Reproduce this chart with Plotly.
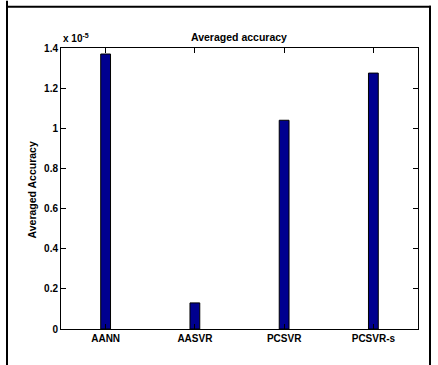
import plotly.graph_objects as go

# Averaged accuracy per method (values in units of 1e-5)
methods = ["AANN", "AASVR", "PCSVR", "PCSVR-s"]
accuracy_e5 = [1.37, 0.13, 1.04, 1.275]
y_ticks_e5 = [0, 0.2, 0.4, 0.6, 0.8, 1.0, 1.2, 1.4]
y_tick_text = ["0", "0.2", "0.4", "0.6", "0.8", "1", "1.2", "1.4"]

SCALE = 1e-5
W, H = 438, 365
L, R, T, B = 61, 418, 47.5, 329.5  # plot area in pixels

def px(x):
    return (x - L) / (R - L)

def py(y):
    return (B - y) / (B - T)

FONT = "Liberation Sans, Arial, Helvetica, sans-serif"

x_pos = list(range(1, len(methods) + 1))
values = [v * SCALE for v in accuracy_e5]

fig = go.Figure(
    go.Bar(
        x=x_pos,
        y=values,
        width=0.11,
        marker=dict(color="#00008F", line=dict(color="black", width=1)),
    )
)

fig.update_layout(
    width=W,
    height=H,
    margin=dict(l=L, r=W - R, t=T, b=H - B, pad=0),
    paper_bgcolor="white",
    plot_bgcolor="white",
    showlegend=False,
    font=dict(family=FONT, size=10, color="black", weight="bold"),
    xaxis=dict(
        range=[0.5, 4.5],
        tickvals=x_pos,
        ticktext=methods,
        ticks="inside",
        ticklen=5,
        tickwidth=1,
        tickcolor="black",
        showline=True,
        linecolor="black",
        linewidth=1,
        mirror="ticks",
        showgrid=False,
        zeroline=False,
        tickfont=dict(family=FONT, size=10, color="black", weight="bold"),
    ),
    yaxis=dict(
        range=[0, 1.4 * SCALE],
        tickvals=[v * SCALE for v in y_ticks_e5],
        ticktext=y_tick_text,
        ticks="inside",
        ticklen=5,
        tickwidth=1,
        tickcolor="black",
        showline=True,
        linecolor="black",
        linewidth=1,
        mirror="ticks",
        showgrid=False,
        zeroline=False,
        tickfont=dict(family=FONT, size=10, color="black", weight="bold"),
    ),
    annotations=[
        dict(
            text="Averaged accuracy",
            xref="paper", yref="paper",
            x=px(238.5), y=py(36),
            xanchor="center", yanchor="middle",
            showarrow=False,
            font=dict(family=FONT, size=10.5, color="black", weight="bold"),
        ),
        dict(
            text="x 10<sup>-5</sup>",
            xref="paper", yref="paper",
            x=px(61), y=py(45),
            xanchor="left", yanchor="bottom",
            showarrow=False,
            font=dict(family=FONT, size=10, color="black", weight="bold"),
        ),
        dict(
            text="Averaged Accuracy",
            xref="paper", yref="paper",
            x=px(31.5), y=py(190),
            xanchor="center", yanchor="middle",
            textangle=-90,
            showarrow=False,
            font=dict(family=FONT, size=10.5, color="black", weight="bold"),
        ),
    ],
    shapes=[
        dict(type="line", xref="paper", yref="paper",
             x0=px(7), x1=px(7), y0=py(0), y1=py(H + 2),
             line=dict(color="black", width=2)),
        dict(type="line", xref="paper", yref="paper",
             x0=px(6), x1=px(431), y0=py(6), y1=py(6),
             line=dict(color="black", width=2)),
        dict(type="line", xref="paper", yref="paper",
             x0=px(430), x1=px(430), y0=py(5), y1=py(H + 2),
             line=dict(color="black", width=2)),
    ],
)

fig.write_html("out.html")
